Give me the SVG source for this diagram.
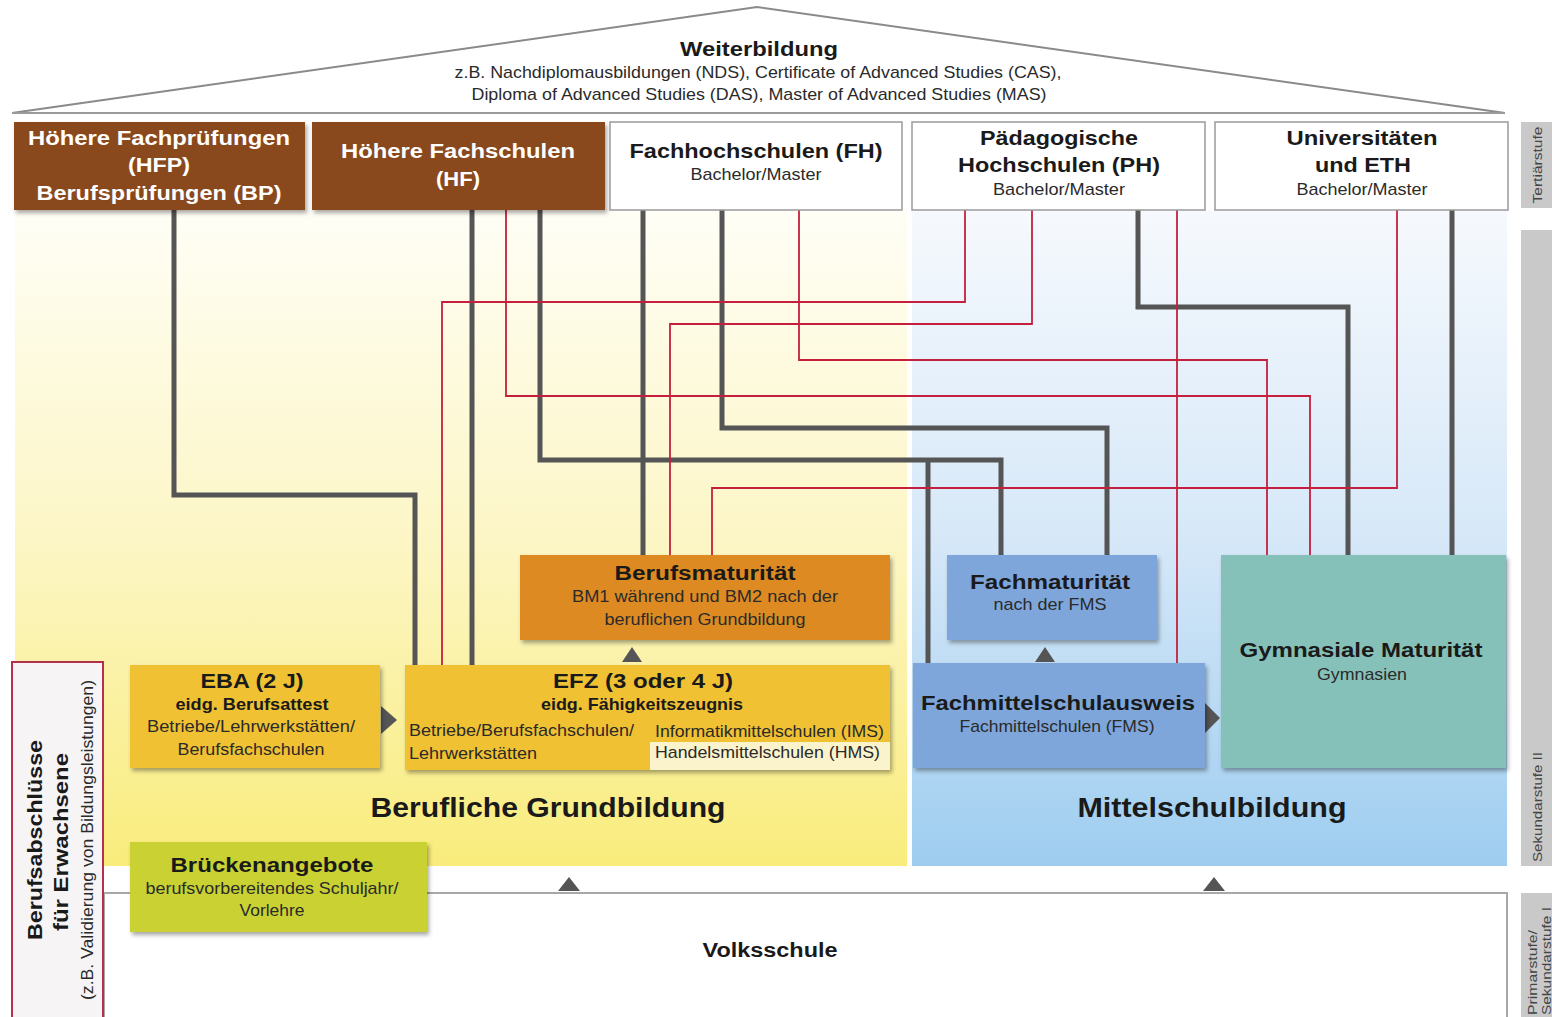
<svg xmlns="http://www.w3.org/2000/svg" width="1552" height="1017" viewBox="0 0 1552 1017">
<defs>
<style>
text{font-family:"Liberation Sans",Arial,Helvetica,sans-serif;fill:#1a1a1a}
.b{font-weight:bold}
.t21{font-size:21px}
.t20{font-size:20px}
.t27{font-size:27px}
.r{font-size:17px;fill:#2a2a2a}
.w{fill:#ffffff}
.lvl{font-size:13px;fill:#444}
.dk{fill:none;stroke:#555555;stroke-width:5;stroke-linejoin:miter}
.rd{fill:none;stroke:#c4203e;stroke-width:1.8}
.tri{fill:#555555}
.topw{fill:#ffffff;stroke:#9a9a9a;stroke-width:1.5}
.brn{fill:#8a4a1c}
.gold{fill:#f0c133}
.org{fill:#de8a24}
.blu{fill:#7ea6da}
.tea{fill:#86c1b9}
.lime{fill:#c9d232}
.gray{fill:#c9c9c9}
</style>
<linearGradient id="gy" x1="0" y1="0" x2="0" y2="1">
<stop offset="0" stop-color="#fffef6"/>
<stop offset="0.5" stop-color="#fcf6c6"/>
<stop offset="1" stop-color="#f9ec7c"/>
</linearGradient>
<linearGradient id="gb" x1="0" y1="0" x2="0" y2="1">
<stop offset="0" stop-color="#f6f9fd"/>
<stop offset="0.5" stop-color="#d6e8f8"/>
<stop offset="1" stop-color="#9ecdf0"/>
</linearGradient>
<filter id="sh" x="-5%" y="-5%" width="112%" height="120%">
<feDropShadow dx="2" dy="3" stdDeviation="2" flood-color="#000" flood-opacity="0.35"/>
</filter>
</defs>

<!-- backgrounds -->
<rect x="0" y="0" width="1552" height="1017" fill="#ffffff"/>
<rect x="15" y="210" width="892" height="656" fill="url(#gy)"/>
<rect x="912" y="210" width="595" height="656" fill="url(#gb)"/>

<!-- roof -->
<g id="weiterbildung">
<polyline points="12,113 757,7 1505,113" fill="none" stroke="#8a8a8a" stroke-width="2"/>
<line x1="12" y1="113" x2="1505" y2="113" stroke="#9a9a9a" stroke-width="2"/>
<text x="759" y="56" text-anchor="middle" class="b t21" textLength="158" lengthAdjust="spacingAndGlyphs">Weiterbildung</text>
<text x="758" y="78" text-anchor="middle" class="r" textLength="607" lengthAdjust="spacingAndGlyphs">z.B. Nachdiplomausbildungen (NDS), Certificate of Advanced Studies (CAS),</text>
<text x="759" y="100" text-anchor="middle" class="r" textLength="575" lengthAdjust="spacingAndGlyphs">Diploma of Advanced Studies (DAS), Master of Advanced Studies (MAS)</text>
</g>

<!-- Volksschule -->
<g id="volksschule">
<rect x="104" y="893" width="1403" height="130" fill="#ffffff" stroke="#a8a8a8" stroke-width="2"/>
<text x="770" y="957" text-anchor="middle" class="b t20" textLength="135" lengthAdjust="spacingAndGlyphs">Volksschule</text>
</g>

<!-- connectors -->
<g id="connectors">
<path class="dk" d="M174,210 V495 H415 V665"/>
<path class="dk" d="M472,210 V665"/>
<path class="dk" d="M540,210 V460 H1001 V555"/>
<path class="dk" d="M928,460 V663"/>
<path class="dk" d="M643,210 V555"/>
<path class="dk" d="M722,210 V428 H1107 V555"/>
<path class="dk" d="M1138,210 V307 H1348 V555"/>
<path class="dk" d="M1452,210 V555"/>
<path class="rd" d="M965,210 V302 H442 V665"/>
<path class="rd" d="M1032,210 V324 H670 V555"/>
<path class="rd" d="M799,210 V360 H1267 V555"/>
<path class="rd" d="M506,210 V396 H1310 V555"/>
<path class="rd" d="M1397,210 V488 H712 V555"/>
<path class="rd" d="M1177,210 V663"/>
<polygon class="tri" points="622,662 632,647 642,662"/>
<polygon class="tri" points="1035,662 1045,647 1055,662"/>
<polygon class="tri" points="381,706 397,720 381,734"/>
<polygon class="tri" points="1205,703 1220,718 1205,733"/>
<polygon class="tri" points="558,891 569,877 580,891"/>
<polygon class="tri" points="1203,891 1214,877 1225,891"/>
</g>

<!-- top row -->
<g id="hfp">
<rect x="14" y="122" width="291" height="88" class="brn" filter="url(#sh)"/>
<text x="159" y="145" text-anchor="middle" class="b t21 w" textLength="262" lengthAdjust="spacingAndGlyphs">Höhere Fachprüfungen</text>
<text x="159" y="172" text-anchor="middle" class="b t21 w" textLength="62" lengthAdjust="spacingAndGlyphs">(HFP)</text>
<text x="159" y="200" text-anchor="middle" class="b t21 w" textLength="245" lengthAdjust="spacingAndGlyphs">Berufsprüfungen (BP)</text>
</g>
<g id="hf">
<rect x="312" y="122" width="293" height="88" class="brn" filter="url(#sh)"/>
<text x="458" y="158" text-anchor="middle" class="b t21 w" textLength="234" lengthAdjust="spacingAndGlyphs">Höhere Fachschulen</text>
<text x="458" y="186" text-anchor="middle" class="b t21 w" textLength="44" lengthAdjust="spacingAndGlyphs">(HF)</text>
</g>
<g id="fh">
<rect x="610" y="122" width="292" height="88" class="topw"/>
<text x="756" y="158" text-anchor="middle" class="b t21" textLength="253" lengthAdjust="spacingAndGlyphs">Fachhochschulen (FH)</text>
<text x="756" y="180" text-anchor="middle" class="r" textLength="131" lengthAdjust="spacingAndGlyphs">Bachelor/Master</text>
</g>
<g id="ph">
<rect x="912" y="122" width="293" height="88" class="topw"/>
<text x="1059" y="145" text-anchor="middle" class="b t21" textLength="158" lengthAdjust="spacingAndGlyphs">Pädagogische</text>
<text x="1059" y="172" text-anchor="middle" class="b t21" textLength="202" lengthAdjust="spacingAndGlyphs">Hochschulen (PH)</text>
<text x="1059" y="195" text-anchor="middle" class="r" textLength="132" lengthAdjust="spacingAndGlyphs">Bachelor/Master</text>
</g>
<g id="uni">
<rect x="1215" y="122" width="293" height="88" class="topw"/>
<text x="1362" y="145" text-anchor="middle" class="b t21" textLength="151" lengthAdjust="spacingAndGlyphs">Universitäten</text>
<text x="1363" y="172" text-anchor="middle" class="b t21" textLength="96" lengthAdjust="spacingAndGlyphs">und ETH</text>
<text x="1362" y="195" text-anchor="middle" class="r" textLength="131" lengthAdjust="spacingAndGlyphs">Bachelor/Master</text>
</g>

<!-- level labels -->
<g id="level-tertiaer">
<rect x="1521" y="122" width="31" height="86" class="gray"/>
<text transform="translate(1542,165) rotate(-90)" text-anchor="middle" class="lvl" textLength="77" lengthAdjust="spacingAndGlyphs">Tertiärstufe</text>
</g>
<g id="level-sek2">
<rect x="1521" y="230" width="31" height="636" class="gray"/>
<text transform="translate(1542,862) rotate(-90)" text-anchor="start" class="lvl" textLength="110" lengthAdjust="spacingAndGlyphs">Sekundarstufe II</text>
</g>
<g id="level-primar">
<rect x="1521" y="893" width="31" height="124" class="gray"/>
<text transform="translate(1537,1015) rotate(-90)" text-anchor="start" class="lvl" textLength="85" lengthAdjust="spacingAndGlyphs">Primarstufe/</text>
<text transform="translate(1551,1015) rotate(-90)" text-anchor="start" class="lvl" textLength="108" lengthAdjust="spacingAndGlyphs">Sekundarstufe I</text>
</g>

<!-- left vertical box -->
<g id="erwachsene">
<rect x="12" y="662" width="91" height="360" fill="#f6f4f5" stroke="#b5304f" stroke-width="2"/>
<text transform="translate(42,840) rotate(-90)" text-anchor="middle" class="b t21" textLength="200" lengthAdjust="spacingAndGlyphs">Berufsabschlüsse</text>
<text transform="translate(68,842) rotate(-90)" text-anchor="middle" class="b t21" textLength="178" lengthAdjust="spacingAndGlyphs">für Erwachsene</text>
<text transform="translate(93,840) rotate(-90)" text-anchor="middle" class="r" textLength="320" lengthAdjust="spacingAndGlyphs">(z.B. Validierung von Bildungsleistungen)</text>
</g>

<!-- Berufliche Grundbildung -->
<g id="berufsmaturitaet">
<rect x="520" y="555" width="370" height="85" class="org" filter="url(#sh)"/>
<text x="705" y="580" text-anchor="middle" class="b t20" textLength="181" lengthAdjust="spacingAndGlyphs">Berufsmaturität</text>
<text x="705" y="602" text-anchor="middle" class="r" textLength="266" lengthAdjust="spacingAndGlyphs">BM1 während und BM2 nach der</text>
<text x="705" y="625" text-anchor="middle" class="r" textLength="201" lengthAdjust="spacingAndGlyphs">beruflichen Grundbildung</text>
</g>
<g id="eba">
<rect x="130" y="665" width="250" height="103" class="gold" filter="url(#sh)"/>
<text x="252" y="688" text-anchor="middle" class="b t21" textLength="103" lengthAdjust="spacingAndGlyphs">EBA (2 J)</text>
<text x="252" y="710" text-anchor="middle" class="b" font-size="17" textLength="153" lengthAdjust="spacingAndGlyphs">eidg. Berufsattest</text>
<text x="251" y="732" text-anchor="middle" class="r" textLength="208" lengthAdjust="spacingAndGlyphs">Betriebe/Lehrwerkstätten/</text>
<text x="251" y="755" text-anchor="middle" class="r" textLength="147" lengthAdjust="spacingAndGlyphs">Berufsfachschulen</text>
</g>
<g id="efz">
<rect x="405" y="665" width="485" height="105" class="gold" filter="url(#sh)"/>
<rect x="650" y="742" width="240" height="28" fill="#fbf3cc"/>
<text x="643" y="688" text-anchor="middle" class="b t21" textLength="180" lengthAdjust="spacingAndGlyphs">EFZ (3 oder 4 J)</text>
<text x="642" y="710" text-anchor="middle" class="b" font-size="17" textLength="202" lengthAdjust="spacingAndGlyphs">eidg. Fähigkeitszeugnis</text>
<text x="409" y="736" class="r" textLength="225" lengthAdjust="spacingAndGlyphs">Betriebe/Berufsfachschulen/</text>
<text x="409" y="759" class="r" textLength="128" lengthAdjust="spacingAndGlyphs">Lehrwerkstätten</text>
<text x="655" y="737" class="r" textLength="229" lengthAdjust="spacingAndGlyphs">Informatikmittelschulen (IMS)</text>
<text x="655" y="758" class="r" textLength="225" lengthAdjust="spacingAndGlyphs">Handelsmittelschulen (HMS)</text>
</g>
<g id="label-berufliche-grundbildung">
<text x="548" y="817" text-anchor="middle" class="b t27" textLength="355" lengthAdjust="spacingAndGlyphs">Berufliche Grundbildung</text>
</g>
<g id="brueckenangebote">
<rect x="130" y="842" width="297" height="90" class="lime" filter="url(#sh)"/>
<text x="272" y="872" text-anchor="middle" class="b t20" textLength="203" lengthAdjust="spacingAndGlyphs">Brückenangebote</text>
<text x="272" y="894" text-anchor="middle" class="r" textLength="253" lengthAdjust="spacingAndGlyphs">berufsvorbereitendes Schuljahr/</text>
<text x="272" y="916" text-anchor="middle" class="r" textLength="65" lengthAdjust="spacingAndGlyphs">Vorlehre</text>
</g>

<!-- Mittelschulbildung -->
<g id="fachmaturitaet">
<rect x="947" y="555" width="210" height="85" class="blu" filter="url(#sh)"/>
<text x="1050" y="589" text-anchor="middle" class="b t20" textLength="160" lengthAdjust="spacingAndGlyphs">Fachmaturität</text>
<text x="1050" y="610" text-anchor="middle" class="r" textLength="113" lengthAdjust="spacingAndGlyphs">nach der FMS</text>
</g>
<g id="fachmittelschulausweis">
<rect x="913" y="663" width="292" height="105" class="blu" filter="url(#sh)"/>
<text x="1058" y="710" text-anchor="middle" class="b t20" textLength="274" lengthAdjust="spacingAndGlyphs">Fachmittelschulausweis</text>
<text x="1057" y="732" text-anchor="middle" class="r" textLength="195" lengthAdjust="spacingAndGlyphs">Fachmittelschulen (FMS)</text>
</g>
<g id="gymnasiale-maturitaet">
<rect x="1221" y="555" width="285" height="213" class="tea" filter="url(#sh)"/>
<text x="1361" y="657" text-anchor="middle" class="b t20" textLength="243" lengthAdjust="spacingAndGlyphs">Gymnasiale Maturität</text>
<text x="1362" y="680" text-anchor="middle" class="r" textLength="90" lengthAdjust="spacingAndGlyphs">Gymnasien</text>
</g>
<g id="label-mittelschulbildung">
<text x="1212" y="817" text-anchor="middle" class="b t27" textLength="269" lengthAdjust="spacingAndGlyphs">Mittelschulbildung</text>
</g>
</svg>
